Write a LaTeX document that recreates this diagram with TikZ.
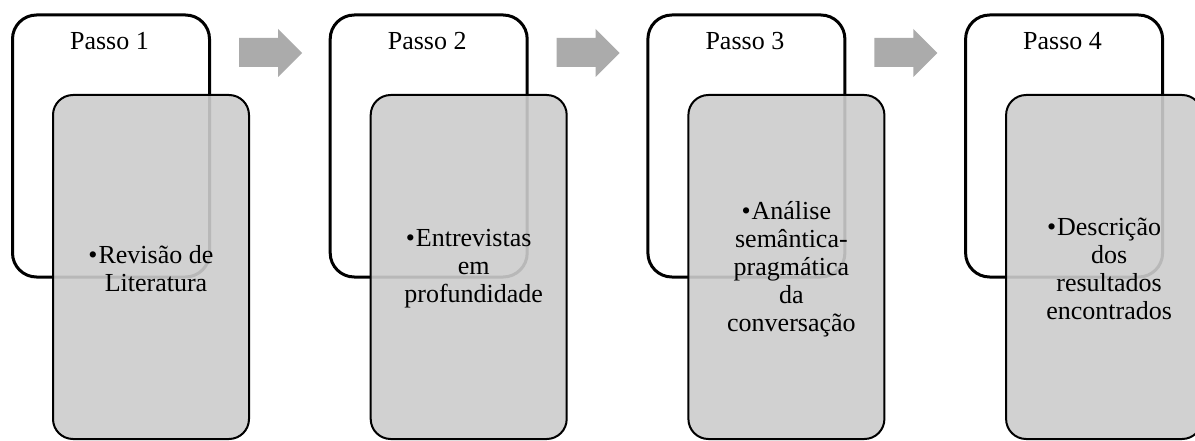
\documentclass[tikz,border=0pt]{standalone}
\usepackage{fontspec}
\setmainfont{Liberation Serif}
\begin{document}
\begin{tikzpicture}[x=1pt,y=-1pt,
  backbox/.style={draw=black, line width=3pt, fill=white, rounded corners=24pt},
  card/.style={draw=black, line width=2pt, fill=black!20, fill opacity=0.9, draw opacity=1, text opacity=1, rounded corners=20pt},
  steptext/.style={font=\fontsize{26}{28}\selectfont, inner sep=0pt},
  cardtext/.style={font=\fontsize{26}{28}\selectfont, align=center, inner sep=0pt},
  flowarrow/.style={fill=black!33, draw=none}]
\clip (0,0) rectangle (1195,441);
\fill[white] (0,0) rectangle (1195,441);
\foreach \i/\txt in {0/{\llap{\textbullet\hspace{1pt}}Revisão de\\Literatura},
                     1/{\llap{\textbullet\hspace{1pt}}Entrevistas\\em\\profundidade},
                     2/{\llap{\textbullet\hspace{1pt}}Análise\\semântica-\\pragmática\\da\\conversação},
                     3/{\llap{\textbullet\hspace{1pt}}Descrição\\dos\\resultados\\encontrados}}{
  \pgfmathsetmacro{\ox}{317.7*\i}
  \pgfmathtruncatemacro{\n}{\i+1}
  \node[backbox, minimum width=197pt, minimum height=262pt, anchor=north west] (back\n) at (11+\ox,13.5) {};
  \node[steptext, anchor=base] (label\n) at (109.5+\ox,50) {Passo \n};
  \node[card, minimum width=196pt, minimum height=344pt, anchor=north west] (card\n) at (52+\ox,94) {};
  \node[cardtext, anchor=center] (text\n) at (156+\ox,269) {\txt};
}
\foreach \i in {0,1,2} {
  \pgfmathsetmacro{\ax}{239+317.7*\i}
  \fill[flowarrow] (\ax,38) -- (\ax+39,38) -- (\ax+39,29) -- (\ax+63,53) -- (\ax+39,77) -- (\ax+39,67) -- (\ax,67) -- cycle;
}
\end{tikzpicture}
\end{document}
